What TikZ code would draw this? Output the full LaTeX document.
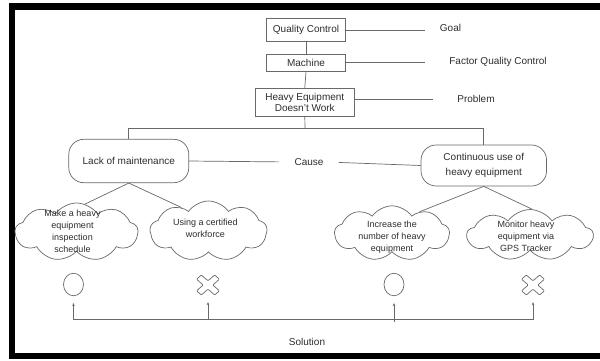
\documentclass[tikz,border=0pt]{standalone}
\usepackage{fontspec}
\setmainfont{Liberation Sans}
\usetikzlibrary{shapes.symbols,shapes.geometric,arrows.meta}
\definecolor{lin}{RGB}{105,105,105}
\definecolor{txt}{RGB}{45,45,45}
\newcommand{\cloudtext}[3]{\smash{\makebox[0pt]{\kern#1\kern#1\raisebox{#2}{\begin{tabular}{@{}c@{}}#3\end{tabular}}}}}
\begin{document}
\begin{tikzpicture}[x=1pt,y=-1pt,
  every node/.style={text=txt, font=\fontsize{10}{12}\selectfont},
  ln/.style={draw=lin, line width=0.7pt},
  box/.style={draw=lin, line width=0.7pt, rectangle, align=center, inner sep=0pt},
  rbox/.style={draw=lin, line width=0.7pt, rectangle, rounded corners=15pt, align=center, inner sep=0pt},
  cl/.style={cloud, draw=lin, line width=0.7pt, cloud puffs=9, cloud puff arc=110, cloud ignores aspect,
    inner sep=0pt, font=\fontsize{9}{12}\selectfont},
  ring/.style={ellipse, draw=lin, line width=0.7pt, minimum width=20pt, minimum height=22.5pt, inner sep=0pt},
  xspot/.style={minimum width=23pt, minimum height=20pt, inner sep=0pt},
  arw/.style={ln, -{Stealth[length=3pt,width=2.6pt]}, shorten >=7pt}
]
\useasboundingbox (0,0) rectangle (600,360);
\fill[white] (0,0) rectangle (600,360);
\draw[line width=6.5pt, black] (12,6.5) rectangle (606,356);

% top chain
\node[box, minimum width=78.5pt, minimum height=23.4pt] (qc) at (306,30) {Quality Control};
\node[box, minimum width=78.5pt, minimum height=16.7pt] (mach) at (306,62.7) {Machine};
\node[box, minimum width=98.4pt, minimum height=28.4pt, font=\fontsize{10}{11}\selectfont] (he) at (304.8,102.5) {Heavy Equipment\\Doesn't Work};
\draw[ln] (qc.south) -- (mach.north);
\draw[ln] (mach.south) -- (he.north);

% right labels
\node (goal) at (450.5,28) {Goal};
\node (fqc) at (498,62) {Factor Quality Control};
\node (prob) at (476,98.7) {Problem};
\coordinate (ge) at (425,30);
\coordinate (fe) at (425,62.7);
\coordinate (pe) at (433,99);
\draw[ln] (qc.east) -- (ge);
\draw[ln] (mach.east) -- (fe);
\draw[ln] (he.east |- pe) -- (pe);

% causes
\node[rbox, minimum width=120pt, minimum height=43.4pt] (lack) at (128.8,161) {Lack of maintenance};
\node[rbox, minimum width=125.5pt, minimum height=41pt, font=\fontsize{10}{15}\selectfont] (cont) at (483.8,165.5) {Continuous use of\\heavy equipment};
\node (cause) at (309,162) {Cause};
\coordinate (bus) at (305,128.3);
\draw[ln] (he.south) -- (bus);
\draw[ln] (lack.north) |- (bus) -| (cont.north);
\draw[ln, shorten >=12pt] (lack.east) -- (cause.west);
\draw[ln, shorten <=12pt] (cause.east) -- (cont.west);

% clouds
\node[cl, minimum width=123pt, minimum height=58pt] (c1) at (76.5,232) {\cloudtext{-4pt}{-2pt}{Make a heavy\\equipment\\inspection\\schedule}};
\node[cl, minimum width=117pt, minimum height=60pt] (c2) at (208.5,231) {\cloudtext{-3pt}{0pt}{Using a certified\\workforce}};
\node[cl, minimum width=115pt, minimum height=55pt] (c3) at (392,233.3) {\cloudtext{0pt}{-6pt}{Increase the\\number of heavy\\equipment}};
\node[cl, minimum width=126pt, minimum height=51pt] (c4) at (530,235) {\cloudtext{-4pt}{-4pt}{Monitor heavy\\equipment via\\GPS Tracker}};
\draw[ln] (lack.south) -- (c1.73);
\draw[ln] (lack.south) -- (c2.139);
\draw[ln] (cont.south) -- (c3.38);
\draw[ln] (cont.south) -- (c4.85);

% marks
\node[ring] (o1) at (73.5,284.5) {};
\node[ring] (o2) at (394,284.5) {};
\node[xspot] (x1) at (208,285) {};
\node[xspot] (x2) at (533,285) {};
\foreach \n in {x1,x2}{
  \draw[ln, rounded corners=0.8pt, shift={(\n.center)}, yscale=0.87, rotate=45]
    (3.4,3.4) -- (12.8,3.4) -- (12.8,-3.4) -- (3.4,-3.4) -- (3.4,-12.8) -- (-3.4,-12.8)
    -- (-3.4,-3.4) -- (-12.8,-3.4) -- (-12.8,3.4) -- (-3.4,3.4) -- (-3.4,12.8) -- (3.4,12.8) -- cycle;
}

% solution bus
\coordinate (sb) at (300,319.5);
\draw[ln] (o1.south |- sb) -- (x2.south |- sb);
\draw[ln] (o2.south |- sb) -- ++(0,2.5);
\foreach \n in {o1,x1,o2,x2}{
  \draw[arw] (\n.south |- sb) -- (\n.south);
}
\node (sol) at (307,341.7) {Solution};
\end{tikzpicture}
\end{document}
